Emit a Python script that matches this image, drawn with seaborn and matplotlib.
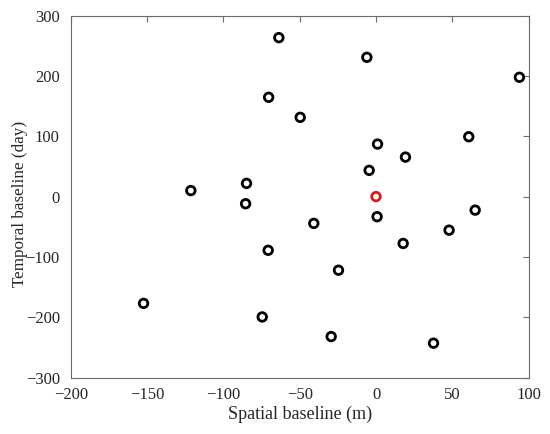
import matplotlib
matplotlib.use("Agg")
import matplotlib.pyplot as plt
import seaborn as sns
import pandas as pd

spatial = [-63.7, -70.4, -49.7, -121.4, -84.9, -6.0, 94.0, 60.8, 1.0, 19.3, -4.5,
           -85.5, -70.7, -152.4, -74.6, 0.7, -40.8, 65.0, 47.9, 17.8, -24.6, -29.4, 37.7,
           0.0]
temporal = [263.5, 164.6, 131.4, 10.0, 21.9, 230.9, 197.8, 99.2, 87.1, 65.5, 43.5,
            -11.8, -89.0, -177.0, -199.5, -33.3, -44.4, -22.4, -55.6, -77.7, -122.0, -232.0, -243.0,
            0.0]
role = ["secondary"] * 23 + ["master"]

df = pd.DataFrame({"Spatial baseline (m)": spatial,
                   "Temporal baseline (day)": temporal,
                   "role": role})

sns.set_theme(style="white")
plt.rcParams['font.family'] = ['Liberation Serif', 'DejaVu Serif']

fig = plt.figure(figsize=(5.5, 4.34), dpi=100)
ax = fig.add_axes([0.129, 0.130, 0.832, 0.834])

sns.scatterplot(data=df, x="Spatial baseline (m)", y="Temporal baseline (day)",
                hue="role", palette={"secondary": "black", "master": "#e8141c"},
                marker="o", s=38, linewidth=2.0,
                legend=False, ax=ax)
coll = ax.collections[0]
cols = ["#e8141c" if r == "master" else "black" for r in role]
coll.set_edgecolors(cols)
coll.set_facecolors("none")

ax.set_xlim(-200, 100)
ax.set_ylim(-300, 300)
ax.set_xticks([-200, -150, -100, -50, 0, 50, 100])
ax.set_yticks([-300, -200, -100, 0, 100, 200, 300])
ax.tick_params(direction="in", length=4, width=0.8, color="#6a6a6a",
               top=True, right=True, labelsize=12, labelcolor="#262626")
ax.tick_params(axis="x", pad=7)
ax.tick_params(axis="y", pad=8)
for sp in ax.spines.values():
    sp.set_color("#6a6a6a")
    sp.set_linewidth(0.8)
ax.set_xlabel("Spatial baseline (m)", fontsize=13, color="#262626", labelpad=2)
ax.set_ylabel("Temporal baseline (day)", fontsize=12.3, color="#262626")
ax.yaxis.set_label_coords(-0.094, 0.48)

fig.savefig("out.png", dpi=100)
